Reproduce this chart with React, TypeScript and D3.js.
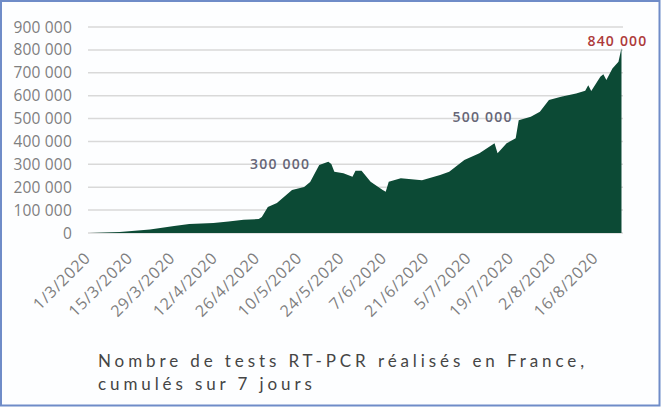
import React from 'react';
import * as d3 from 'd3';

// daily cumulative-7-day RT-PCR tests
const dates = [
  '1/3/2020', '11/3/2020', '21/3/2020', '29/3/2020', '3/4/2020', '11/4/2020', '16/4/2020',
  '21/4/2020', '26/4/2020', '27/4/2020', '29/4/2020', '2/5/2020', '7/5/2020', '11/5/2020',
  '13/5/2020', '16/5/2020', '19/5/2020', '20/5/2020', '21/5/2020', '24/5/2020', '27/5/2020',
  '28/5/2020', '30/5/2020', '2/6/2020', '6/6/2020', '7/6/2020', '8/6/2020', '12/6/2020',
  '19/6/2020', '25/6/2020', '28/6/2020', '3/7/2020', '8/7/2020', '13/7/2020', '14/7/2020',
  '17/7/2020', '20/7/2020', '21/7/2020', '25/7/2020', '28/7/2020', '31/7/2020', '4/8/2020',
  '9/8/2020', '12/8/2020', '13/8/2020', '14/8/2020', '17/8/2020', '18/8/2020', '19/8/2020',
  '21/8/2020', '23/8/2020', '24/8/2020'
];
const tests = [
  0, 4000, 15000, 31000, 39000, 44000, 50000,
  58000, 61000, 70000, 114000, 131000, 188000, 201000,
  223000, 297000, 311000, 301000, 268000, 261000, 246000,
  272000, 272000, 224000, 188000, 180000, 224000, 239000,
  231000, 253000, 268000, 319000, 348000, 392000, 348000,
  392000, 414000, 493000, 508000, 530000, 581000, 595000,
  610000, 622000, 645000, 620000, 683000, 694000, 668000,
  719000, 748000, 808000
];

const tickLabels = [
  '1/3/2020', '15/3/2020', '29/3/2020', '12/4/2020', '26/4/2020', '10/5/2020', '24/5/2020',
  '7/6/2020', '21/6/2020', '5/7/2020', '19/7/2020', '2/8/2020', '16/8/2020'
];
const yTicks = [0, 100000, 200000, 300000, 400000, 500000, 600000, 700000, 800000, 900000];

// callouts: date/value they sit by, plus a small nudge
const annotations = [
  { date: '10/5/2020', value: 300000, text: '300 000', color: '#666677', dx: -21, dy: 5 },
  { date: '15/7/2020', value: 500000, text: '500 000', color: '#666677', dx: -18, dy: 3 },
  { date: '24/8/2020', value: 840000, text: '840 000', color: '#ad3a3a', dx: -4, dy: 5 }
];

const parse = d3.utcParse('%d/%m/%Y');
const HALF_DAY = 12 * 3600 * 1000;

export default function App() {
  const width = 661;
  const height = 407;
  const left = 88;
  const right = 623;
  const top = 27;
  const bottom = 233;

  const data = dates.map((d, i) => ({ date: parse(d) as Date, value: tests[i] }));

  const x = d3.scaleUtc()
    .domain([
      new Date(data[0].date.getTime() - HALF_DAY),
      new Date(data[data.length - 1].date.getTime() + HALF_DAY)
    ])
    .range([left, right]);
  const y = d3.scaleLinear().domain([0, 900000]).range([bottom, top]);

  const area = d3.area<{ date: Date; value: number }>()
    .x(d => x(d.date))
    .y0(y(0))
    .y1(d => y(d.value));

  const fmt = (v: number) => d3.format(',')(v).replace(/,/g, ' ');
  const axisFont = "'Open Sans', 'Noto Sans', sans-serif";
  const captionFont = "Lato, 'Open Sans', sans-serif";

  return (
    <svg width={width} height={height} style={{ position: 'absolute', left: 0, top: 0 }}>
      <rect x={0} y={0} width={width} height={height} fill="#fdfeff" />
      <rect x={1} y={1} width={width - 2.5} height={height - 2.5} fill="none" stroke="#6f8cc8" strokeWidth={2} />

      {/* grid */}
      {yTicks.map(t => (
        <line key={t} x1={left} x2={right} y1={y(t)} y2={y(t)} stroke="#d9d9d9" strokeWidth={1.5} />
      ))}

      <path d={area(data) || ''} fill="#0c4a35" />

      {/* y labels */}
      {yTicks.map(t => (
        <text key={t} x={72} y={y(t)} dy="0.36em" textAnchor="end" fontFamily={axisFont}
          fontSize={15.5} letterSpacing={0.2} fill="#7f7f7f">
          {fmt(t)}
        </text>
      ))}

      {/* x labels */}
      {tickLabels.map(l => {
        const px = x(parse(l) as Date) + 2;
        const py = 259;
        return (
          <text key={l} x={px} y={py} textAnchor="end" fontFamily={axisFont} fontSize={16}
            letterSpacing={0.8} fill="#7f7f7f" transform={`rotate(-45, ${px}, ${py})`}>
            {l}
          </text>
        );
      })}

      {/* annotations */}
      {annotations.map(a => (
        <text key={a.text} x={x(parse(a.date) as Date) + a.dx} y={y(a.value) + a.dy} textAnchor="middle"
          fontFamily={axisFont} fontSize={14} fontWeight={600} letterSpacing={1.2} fill={a.color}>
          {a.text}
        </text>
      ))}

      {/* caption */}
      <text x={98} y={367} fontFamily={captionFont} fontSize={17} letterSpacing={3.9} fill="#454545">
        Nombre de tests RT-PCR réalisés en France,
      </text>
      <text x={98} y={390} fontFamily={captionFont} fontSize={17} letterSpacing={3.9} fill="#454545">
        cumulés sur 7 jours
      </text>
    </svg>
  );
}
